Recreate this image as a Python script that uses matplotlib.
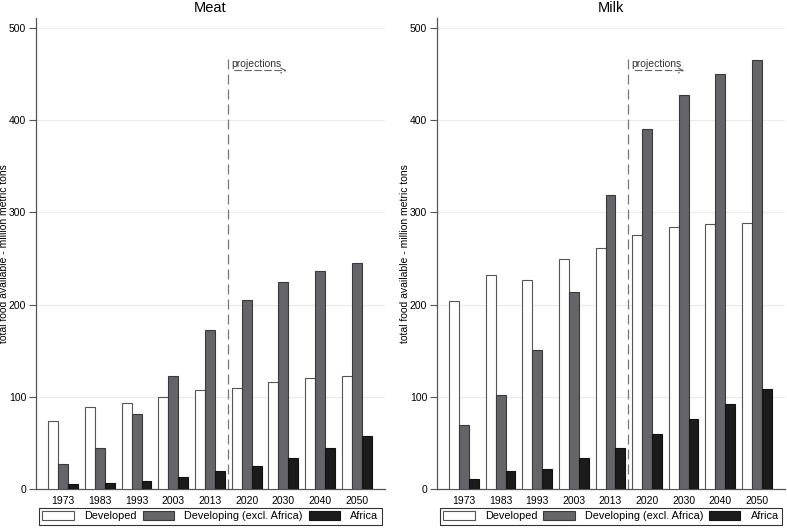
import numpy as np
import matplotlib
matplotlib.use("Agg")
import matplotlib.pyplot as plt
from matplotlib.patches import Patch

plt.rcParams['font.family'] = ['Liberation Sans', 'DejaVu Sans']

years = ['1973', '1983', '1993', '2003', '2013', '2020', '2030', '2040', '2050']
series = ['Developed', 'Developing (excl. Africa)', 'Africa']

meat_developed = [74, 89, 93, 100, 107, 110, 116, 120, 123]
meat_developing = [27, 44, 81, 123, 173, 205, 225, 237, 245]
meat_africa = [5, 7, 9, 13, 19, 25, 34, 44, 57]

milk_developed = [204, 232, 227, 250, 261, 276, 284, 288, 289]
milk_developing = [69, 102, 151, 214, 319, 391, 427, 450, 465]
milk_africa = [11, 19, 22, 34, 44, 60, 76, 92, 108]

fills = ['white', '#646469', '#1b1b1b']
edges = ['#555555', '#3a3a3a', '#111111']
grey = '#555555'


def draw_panel(ax, title, values, arrow_end):
    x = np.arange(len(years))
    w = 0.27
    for i, vals in enumerate(values):
        ax.bar(x + (i - 1) * w, vals, w, color=fills[i], edgecolor=edges[i],
               linewidth=0.8, zorder=3)

    ax.set_xlim(-0.74, 8.77)
    ax.set_ylim(0, 511)
    ax.set_yticks(range(0, 501, 100))
    ax.set_xticks(x)
    ax.set_xticklabels(years)
    ax.grid(axis='y', color='#ebebeb', linewidth=0.8, zorder=0)
    ax.tick_params(axis='x', length=0, labelsize=7.5, pad=5)
    ax.tick_params(axis='y', length=5, color=grey, labelsize=7.5, width=0.8, pad=2)
    for s in ['top', 'right']:
        ax.spines[s].set_visible(False)
    for s in ['left', 'bottom']:
        ax.spines[s].set_color(grey)
        ax.spines[s].set_linewidth(0.9)
    ax.set_title(title, fontsize=10.5, pad=4)
    ax.set_ylabel('total food available - million metric tons', fontsize=7.5)
    ax.yaxis.set_label_coords(-0.077, 0.5)

    # projections marker
    ax.plot([4.48, 4.48], [0, 468], color='#777777', linewidth=0.9,
            linestyle=(0, (8, 4)), zorder=4)
    ax.text(4.57, 458, 'projections', fontsize=7.5, ha='left', va='baseline',
            color='#333333')
    ax.annotate('', xy=(arrow_end, 454), xytext=(4.6, 454),
                arrowprops=dict(arrowstyle='->', linestyle=(0, (6, 3)),
                                color='#666666', lw=0.8, mutation_scale=9))

    handles = [Patch(facecolor=fills[i], edgecolor=edges[i], linewidth=0.8)
               for i in range(3)]
    leg = ax.legend(handles, series, ncol=3, loc='upper left',
                    bbox_to_anchor=(0.009, -0.081, 0.982, 0.041), mode='expand',
                    fontsize=7.8, handlelength=2.9, handleheight=0.95,
                    handletextpad=0.95, columnspacing=0.5, borderpad=0.3,
                    borderaxespad=0, fancybox=False, framealpha=1)
    leg.get_frame().set_edgecolor('#333333')
    leg.get_frame().set_linewidth(0.8)


fig = plt.figure(figsize=(7.87, 5.29), dpi=100)
ax1 = fig.add_axes([36 / 787, 40 / 529, 349 / 787, 471 / 529])
ax2 = fig.add_axes([437 / 787, 40 / 529, 348 / 787, 471 / 529])

draw_panel(ax1, 'Meat', [meat_developed, meat_developing, meat_africa], 6.17)
draw_panel(ax2, 'Milk', [milk_developed, milk_developing, milk_africa], 6.1)

fig.savefig('out.png', dpi=100)
